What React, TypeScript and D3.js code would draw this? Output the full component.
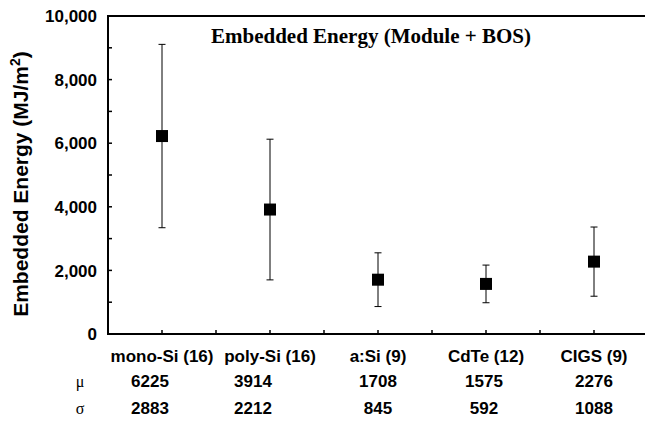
import React from 'react';
import * as d3 from 'd3';

// data
const categories = ['mono-Si (16)', 'poly-Si (16)', 'a:Si (9)', 'CdTe (12)', 'CIGS (9)'];
const means = [6225, 3914, 1708, 1575, 2276];
const sigmas = [2883, 2212, 845, 592, 1088];
const yTicks = [0, 2000, 4000, 6000, 8000, 10000];
const yMinorTicks = [1000, 3000, 5000, 7000, 9000];

const W = 645;
const H = 423;
const M = { left: 108, top: 16, bottom: 334 };
const SANS = '"Liberation Sans", Arial, Helvetica, sans-serif';
const SERIF = '"Liberation Serif", "Times New Roman", serif';

// the table values under the first columns sit a little left of the category centre
const rowNudge = [-12, -17, 0, -2, 0];

const App: React.FC = () => {
  const x = d3.scaleBand<string>()
    .domain(categories)
    .range([M.left, M.left + 108 * categories.length])
    .padding(0);
  const bw = x.bandwidth();
  const cx = (c: string) => (x(c) as number) + bw / 2;

  const y = d3.scaleLinear().domain([0, 10000]).range([M.bottom, M.top]);
  const fmt = d3.format(',');

  // ticks on x axis: band edges and band centres
  const xTicks: number[] = [];
  categories.forEach(c => {
    xTicks.push(x(c) as number);
    xTicks.push(cx(c));
  });
  xTicks.push(x.range()[1]);

  const tickLen = 4;
  const box = 12;
  const cap = 7;

  return (
    <svg width={W} height={H} style={{ position: 'absolute', left: 0, top: 0, background: '#fff' }}>
      {/* title */}
      <text x={371} y={43} textAnchor="middle" fontFamily={SERIF} fontWeight="bold" fontSize={21} fill="#000">
        Embedded Energy (Module + BOS)
      </text>

      {/* y axis label */}
      <text
        transform={`translate(28,184) rotate(-90)`}
        textAnchor="middle"
        fontFamily={SANS}
        fontWeight="bold"
        fontSize={21}
        fill="#000"
      >
        Embedded Energy (MJ/m<tspan fontSize={14} dy={-8}>2</tspan><tspan dy={8}>)</tspan>
      </text>

      {/* y ticks + labels */}
      {yTicks.map(t => (
        <g key={'y' + t}>
          <line x1={M.left} x2={M.left + tickLen} y1={y(t)} y2={y(t)} stroke="#000" strokeWidth={1.5} />
          <text x={97} y={y(t)} dy="0.36em" textAnchor="end" fontFamily={SANS} fontWeight="bold" fontSize={17} fill="#000">
            {fmt(t)}
          </text>
        </g>
      ))}
      {yMinorTicks.map(t => (
        <line key={'ym' + t} x1={M.left} x2={M.left + tickLen} y1={y(t)} y2={y(t)} stroke="#000" strokeWidth={1.5} />
      ))}

      {/* x ticks */}
      {xTicks.map((t, i) => (
        <line key={'x' + i} x1={t} x2={t} y1={M.bottom} y2={M.bottom - tickLen} stroke="#000" strokeWidth={1.5} />
      ))}

      {/* axes and top frame line */}
      <line x1={M.left} x2={M.left} y1={M.top - 1} y2={M.bottom + 1} stroke="#000" strokeWidth={2} />
      <line x1={M.left - 1} x2={W} y1={M.bottom} y2={M.bottom} stroke="#000" strokeWidth={2} />
      <line x1={M.left - 1} x2={W} y1={M.top} y2={M.top} stroke="#000" strokeWidth={2} />

      {/* error bars and mean markers */}
      {categories.map((c, i) => {
        const px = cx(c);
        const hi = y(means[i] + sigmas[i]);
        const lo = y(means[i] - sigmas[i]);
        return (
          <g key={c}>
            <line x1={px} x2={px} y1={hi} y2={lo} stroke="#000" strokeWidth={1} />
            <line x1={px - cap / 2} x2={px + cap / 2} y1={hi} y2={hi} stroke="#000" strokeWidth={1} />
            <line x1={px - cap / 2} x2={px + cap / 2} y1={lo} y2={lo} stroke="#000" strokeWidth={1} />
            <rect x={px - box / 2} y={y(means[i]) - box / 2} width={box} height={box} fill="#000" />
          </g>
        );
      })}

      {/* category labels */}
      {categories.map(c => (
        <text key={'c' + c} x={cx(c)} y={362} textAnchor="middle" fontFamily={SANS} fontWeight="bold" fontSize={17} fill="#000">
          {c}
        </text>
      ))}

      {/* mu / sigma rows */}
      <text x={80} y={387} textAnchor="middle" fontFamily={SERIF} fontSize={16} fill="#000">μ</text>
      <text x={80} y={414} textAnchor="middle" fontFamily={SERIF} fontSize={16} fill="#000">σ</text>
      {categories.map((c, i) => (
        <g key={'v' + c}>
          <text x={cx(c) + rowNudge[i]} y={387} textAnchor="middle" fontFamily={SANS} fontWeight="bold" fontSize={17} fill="#000">
            {means[i]}
          </text>
          <text x={cx(c) + rowNudge[i]} y={414} textAnchor="middle" fontFamily={SANS} fontWeight="bold" fontSize={17} fill="#000">
            {sigmas[i]}
          </text>
        </g>
      ))}
    </svg>
  );
};

export default App;
